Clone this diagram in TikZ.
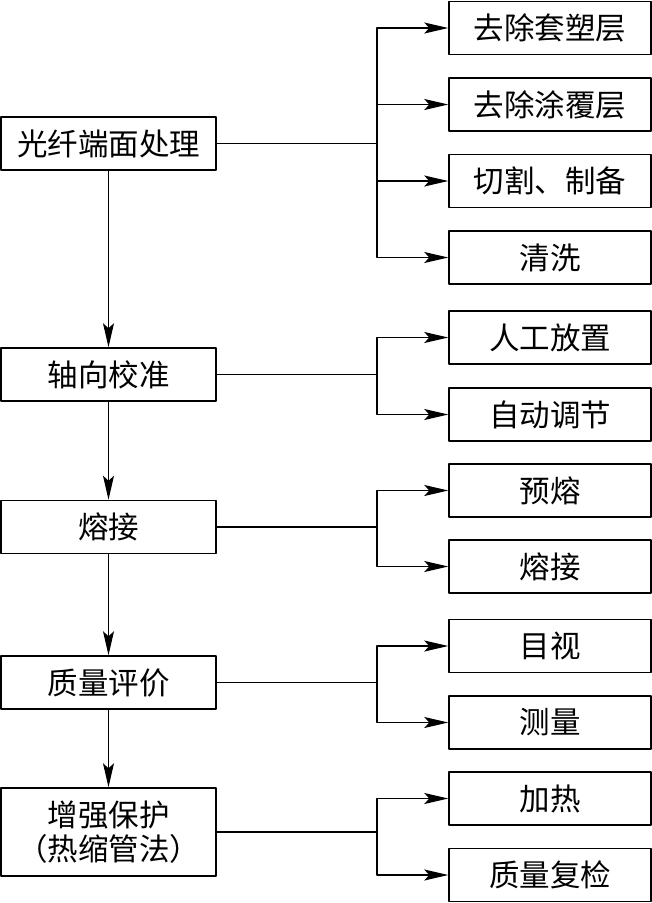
\documentclass[tikz,border=0pt]{standalone}
\usepackage{fontspec}
\newfontfamily\cjk{Noto Sans CJK SC}
\usetikzlibrary{arrows.meta}
\tikzset{
  stage/.style={draw, line width=1.5pt, minimum width=215pt, minimum height=53pt, inner sep=0pt, align=center},
  task/.style={draw, line width=1.5pt, minimum width=202pt, minimum height=53pt, inner sep=0pt},
}
\begin{document}
\begin{tikzpicture}[x=1pt, y=-1pt, font=\cjk\fontsize{30.5}{34}\selectfont, line join=round, line width=1.3pt, >={Stealth[length=24pt,width=11pt,inset=5pt]}]
	\useasboundingbox (0,0) rectangle (652,903);
	\def\bx{377} % x of the branch lines
	\coordinate (bx) at (\bx,0);
	
	% main stages
	\node[stage] (s1) at (108.5,143.5) {光纤端面处理};
	\node[stage] (s2) at (108.5,374.5) {轴向校准};
	\node[stage] (s3) at (108.5,527) {熔接};
	\node[stage] (s4) at (108.5,682.5) {质量评价};
	\node[stage, minimum height=88pt] (s5) at (108.5,832) {增强保护\\（热缩管法）};
	
	% sub tasks
	\foreach \n/\y/\t in {t1/28/去除套塑层, t2/104.5/去除涂覆层, t3/181/切割、制备, t4/257.5/清洗,
		t5/337.5/人工放置, t6/414.5/自动调节, t7/490.5/预熔, t8/566.5/熔接,
		t9/646/目视, t10/722.5/测量, t11/798.5/加热, t12/875/质量复检}
		\node[task] (\n) at (550,\y) {\t};
	
	\foreach \a/\b in {s1/s2,s2/s3,s3/s4,s4/s5}\draw[->] (\a) -- (\b);
	
	\foreach \s/\t in {s1/t1,s1/t2,s1/t3,s1/t4,s2/t5,s2/t6,s3/t7,s3/t8,s4/t9,s4/t10,s5/t11,s5/t12}
		\draw[->] (\s.east) -- (\s.east -| bx) |- (\t.west);
\end{tikzpicture}
\end{document}
